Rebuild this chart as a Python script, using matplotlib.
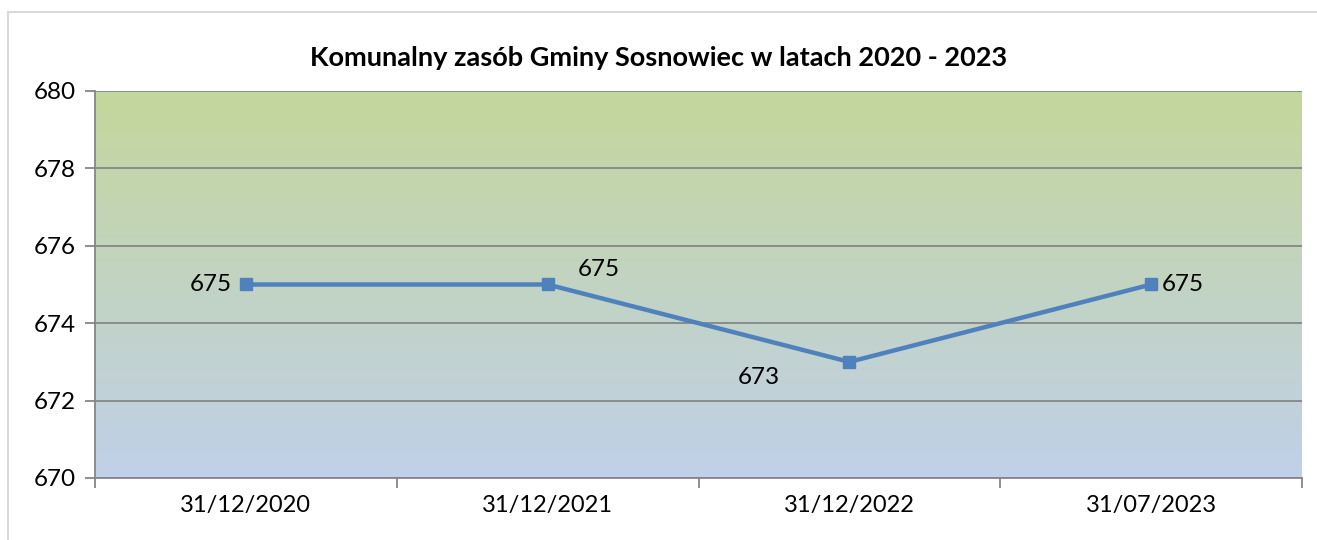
import numpy as np
import matplotlib.pyplot as plt
from matplotlib.colors import LinearSegmentedColormap
from matplotlib.patches import Rectangle

# data
categories = ["31/12/2020", "31/12/2021", "31/12/2022", "31/07/2023"]
values = [675, 675, 673, 675]
label_offsets = [(-10, 0, "right", "center"), (22, 3, "left", "bottom"),
                 (-50, -4, "right", "top"), (8, 0, "left", "center")]

plt.rcParams['font.family'] = ['Lato', 'DejaVu Sans']

fig = plt.figure(figsize=(13.17, 5.4), dpi=100)
fig.patches.append(Rectangle((8 / 1317, -0.1), 1.2, (528 - 0) / 540 + 0.1,
                             transform=fig.transFigure, fill=False,
                             edgecolor="#d9d9d9", linewidth=1.5))

ax = fig.add_axes([95 / 1317, 1 - 478 / 540, (1302 - 95) / 1317, (478 - 91) / 540])

# gradient background
cmap = LinearSegmentedColormap.from_list("bg", ["#c0d0ea", "#c4d79b"])
grad = np.linspace(0, 1, 256).reshape(-1, 1)
ax.imshow(grad, cmap=cmap, aspect="auto", origin="lower",
          extent=[0, 1, 0, 1], transform=ax.transAxes, zorder=0)

x = np.arange(len(categories))
ax.plot(x, values, color="#4f81bd", linewidth=3.2, marker="s",
        markersize=8, zorder=3)

for xi, v, (dx, dy, ha, va) in zip(x, values, label_offsets):
    ax.annotate(str(v), (xi, v), xytext=(dx, dy), textcoords="offset points",
                ha=ha, va=va, fontsize=17.5, color="black")

ax.set_xlim(-0.5, len(categories) - 0.5)
ax.set_ylim(670, 680)
ax.set_yticks(np.arange(670, 681, 2))
ax.yaxis.grid(True, color="#868686", linewidth=1.3)
ax.set_axisbelow(False)
for gl in ax.get_ygridlines():
    gl.set_zorder(1)

ax.set_xticks(np.arange(-0.5, len(categories), 1.0))
ax.set_xticklabels([])
ax.set_xticks(x, minor=True)
ax.set_xticklabels(categories, minor=True)
ax.tick_params(axis="x", which="minor", length=0, pad=12, labelsize=17)
ax.tick_params(axis="x", which="major", length=7, color="#868686", width=1.3)
ax.tick_params(axis="y", length=7, color="#868686", width=1.3, labelsize=17.5, pad=7)

for s in ["top", "right"]:
    ax.spines[s].set_visible(False)
for s in ["left", "bottom"]:
    ax.spines[s].set_color("#868686")
    ax.spines[s].set_linewidth(1.3)

fig.text(0.5, 1 - 58 / 540, "Komunalny zasób Gminy Sosnowiec w latach 2020 - 2023",
         ha="center", va="center", fontsize=19.5, fontweight="bold")

fig.savefig("out.png", dpi=100)
